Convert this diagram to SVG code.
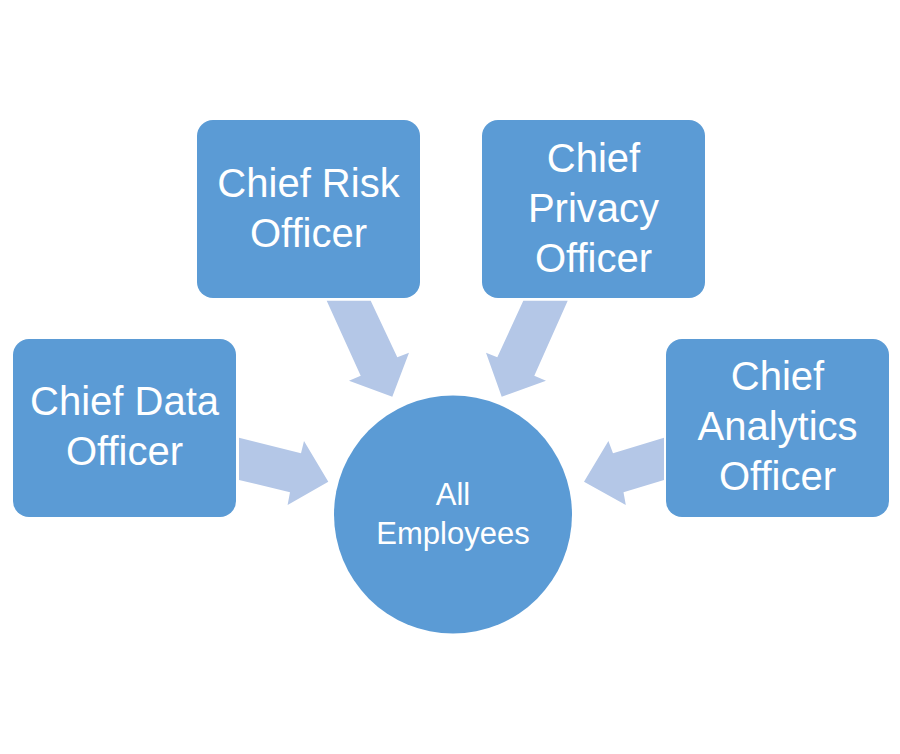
<svg xmlns="http://www.w3.org/2000/svg" width="900" height="754" viewBox="0 0 900 754">
<style>
.box{fill:#5B9BD5}
.arr{fill:#B4C7E7}
.t{fill:#FFFFFF;font-family:"Liberation Sans",Arial,sans-serif;font-size:40px;text-anchor:middle}
.s{font-size:31px}
</style>
<rect width="900" height="754" fill="#FFFFFF"/>
<g id="connectors">
<polygon class="arr" points="326.7,300.7 370.7,300.7 397.3,357.3 409,352.7 392.3,396.7 349,380.7 360.7,375.7"/>
<polygon class="arr" points="523.3,300.7 567.7,300.7 534.3,375.7 546,380.7 501.7,396.7 486,352.7 497.3,357.3"/>
<polygon class="arr" points="239,437.7 301,453.3 304,441 328.3,481.7 287.6,505 290,492.3 239,480"/>
<polygon class="arr" points="664,437.7 613,453.3 608.4,441 584,481.7 625.8,505 623.5,492.3 664,480"/>
</g>
<g id="node-data">
<rect class="box" x="13" y="339" width="223" height="178" rx="16"/>
<text class="t" x="124.5" y="415">Chief Data</text>
<text class="t" x="124.5" y="465">Officer</text>
</g>
<g id="node-risk">
<rect class="box" x="197" y="120" width="223" height="178" rx="16"/>
<text class="t" x="308.5" y="197">Chief Risk</text>
<text class="t" x="308.5" y="247">Officer</text>
</g>
<g id="node-privacy">
<rect class="box" x="482" y="120" width="223" height="178" rx="16"/>
<text class="t" x="593.5" y="172">Chief</text>
<text class="t" x="593.5" y="222">Privacy</text>
<text class="t" x="593.5" y="272">Officer</text>
</g>
<g id="node-analytics">
<rect class="box" x="666" y="339" width="223" height="178" rx="16"/>
<text class="t" x="777.5" y="390">Chief</text>
<text class="t" x="777.5" y="440">Analytics</text>
<text class="t" x="777.5" y="490">Officer</text>
</g>
<g id="node-employees">
<circle class="box" cx="453" cy="514.5" r="119"/>
<text class="t s" x="453" y="505">All</text>
<text class="t s" x="453" y="544">Employees</text>
</g>
</svg>
